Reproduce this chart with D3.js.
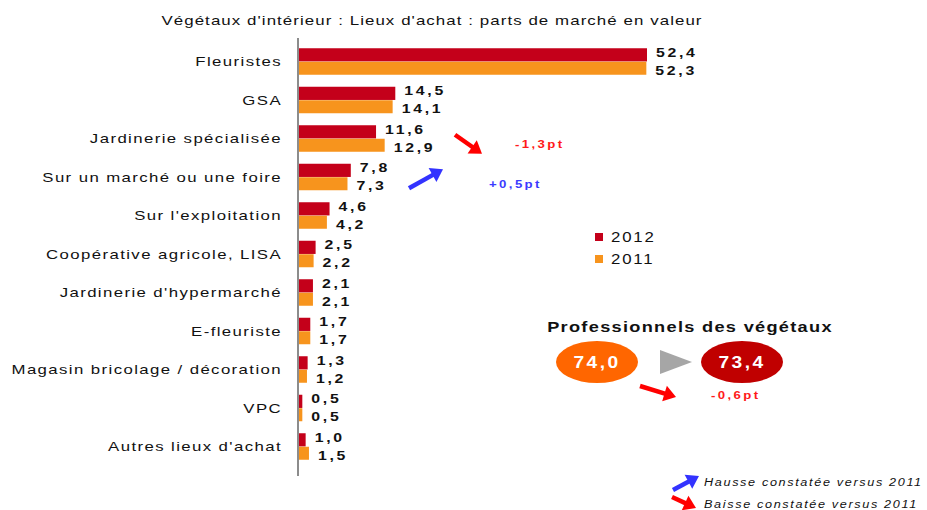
<!DOCTYPE html>
<html>
<head>
<meta charset="utf-8">
<script src="https://cdn.jsdelivr.net/npm/d3@7"></script>
<style>
body { margin:0; background:#fff; }
text { font-family: "Liberation Sans", Arial, sans-serif; }
</style>
</head>
<body>
<div id="chart"></div>
<script>
var categories = ["Fleuristes","GSA","Jardinerie spécialisée","Sur un marché ou une foire","Sur l'exploitation",
  "Coopérative agricole, LISA","Jardinerie d'hypermarché","E-fleuriste","Magasin bricolage / décoration","VPC","Autres lieux d'achat"];
var v2012 = [52.4,14.5,11.6,7.8,4.6,2.5,2.1,1.7,1.3,0.5,1.0];
var v2011 = [52.3,14.1,12.9,7.3,4.2,2.2,2.1,1.7,1.2,0.5,1.5];
var series = ["2012","2011"];
var colors = {"2012":"#c4001a","2011":"#f7941d"};
var proValues = [74.0, 73.4];
var changes = [{cat:"Jardinerie spécialisée", label:"-1,3pt", dir:"down"},
               {cat:"Sur un marché ou une foire", label:"+0,5pt", dir:"up"}];
var proChange = "-0,6pt";

var W = 927, H = 510;
var svg = d3.select("#chart").append("svg").attr("width", W).attr("height", H);

var fmt = function(v){ return d3.format(".1f")(v).replace(".", ","); };

// text is drawn wide in the original, so stretch it horizontally
function txt(x, y, s, o){
  o = o || {};
  var t = svg.append("text")
    .attr("transform", "translate(" + x + "," + y + ") scale(" + (o.sx || 1.2) + ",1)")
    .attr("text-anchor", o.anchor || "start")
    .style("font-size", (o.size || 12) + "px")
    .style("letter-spacing", (o.ls || 0) + "px")
    .attr("fill", o.fill || "#111")
    .text(s);
  if (o.bold) t.style("font-weight", "bold");
  if (o.italic) t.style("font-style", "italic");
  return t;
}

var x = d3.scaleLinear().domain([0, 52.4]).range([299, 647]);
var y = d3.scaleBand().domain(categories).range([42.5, 466]);

// title
txt(432, 25, "Végétaux d'intérieur : Lieux d'achat : parts de marché en valeur",
  {anchor:"middle", size:12.5, ls:0.8, sx:1.35});

// bars
categories.forEach(function(c, i){
  var cy = y(c) + y.bandwidth()/2;
  svg.append("rect").attr("x", x(0)).attr("y", cy - 13.5).attr("width", x(v2012[i]) - x(0)).attr("height", 13.2)
    .attr("fill", colors["2012"]);
  svg.append("rect").attr("x", x(0)).attr("y", cy).attr("width", x(v2011[i]) - x(0)).attr("height", 13)
    .attr("fill", colors["2011"]);
  txt(x(v2012[i]) + 9, cy - 5, fmt(v2012[i]), {size:13, bold:true, ls:2.2, sx:1.22});
  txt(x(v2011[i]) + 9, cy + 13, fmt(v2011[i]), {size:13, bold:true, ls:2.2, sx:1.22});
  txt(282, cy + 4.5, c, {anchor:"end", size:12, ls:1, sx:1.4});
});

// axis line
svg.append("line").attr("x1", 298).attr("x2", 298).attr("y1", 38).attr("y2", 476)
  .attr("stroke","#8c8c8c").attr("stroke-width", 2);

// legend
series.forEach(function(s, i){
  svg.append("rect").attr("x", 595).attr("y", 233 + i*22).attr("width", 8).attr("height", 8).attr("fill", colors[s]);
  txt(611, 242 + i*22, s, {size:14, ls:1.5, sx:1.2});
});

// arrow helper
function arrow(x1, y1, x2, y2, color, w){
  var a = Math.atan2(y2 - y1, x2 - x1), hl = 12, hw = 8;
  var bx = x2 - hl*Math.cos(a), by = y2 - hl*Math.sin(a);
  svg.append("line").attr("x1", x1).attr("y1", y1).attr("x2", bx + 2*Math.cos(a)).attr("y2", by + 2*Math.sin(a))
    .attr("stroke", color).attr("stroke-width", w);
  var p = [[x2, y2],
    [bx + hw*Math.sin(a), by - hw*Math.cos(a)],
    [bx - hw*Math.sin(a), by + hw*Math.cos(a)]];
  svg.append("path").attr("d", d3.line()(p) + "Z").attr("fill", color);
}

var cJ = y(changes[0].cat) + y.bandwidth()/2;
var cM = y(changes[1].cat) + y.bandwidth()/2;
arrow(455, cJ - 4, 482, cJ + 15, "#ff0000", 4.5);
txt(515, cJ + 9, changes[0].label, {size:11, bold:true, ls:2, sx:1.2, fill:"#ff1a1a"});
arrow(409, cM + 11, 443, cM - 8, "#3333ff", 4.5);
txt(489, cM + 11, changes[1].label, {size:11, bold:true, ls:2, sx:1.2, fill:"#3b3bff"});

// professionnels block
txt(690, 332, "Professionnels des végétaux", {anchor:"middle", size:14, bold:true, ls:1, sx:1.3});
var proColors = ["#ff6600","#c00000"];
var proX = [597, 742];
proValues.forEach(function(v, i){
  svg.append("ellipse").attr("cx", proX[i]).attr("cy", 362).attr("rx", 41).attr("ry", 21).attr("fill", proColors[i]);
  txt(proX[i], 368, fmt(v), {anchor:"middle", size:16, bold:true, ls:2, sx:1.2, fill:"#fff"});
});
svg.append("path").attr("d", "M660,350L692,362L660,374Z").attr("fill","#a6a6a6");
arrow(640, 386, 676, 397, "#ff0000", 4.5);
txt(711, 399, proChange, {size:11, bold:true, ls:2, sx:1.2, fill:"#ff1a1a"});

// bottom legend
arrow(673, 490, 699, 476, "#3333ff", 4.5);
txt(704, 486, "Hausse constatée versus 2011", {size:11.5, italic:true, ls:1.5, sx:1.1});
arrow(672, 497, 696, 508, "#ff0000", 4.5);
txt(704, 508, "Baisse constatée versus 2011", {size:11.5, italic:true, ls:1.5, sx:1.1});
</script>
</body>
</html>
